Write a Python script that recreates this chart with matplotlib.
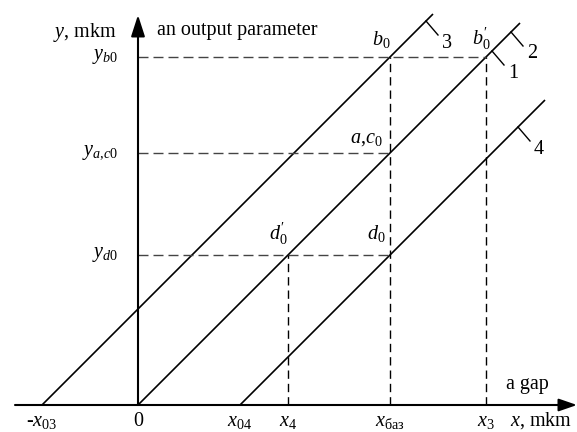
import matplotlib
matplotlib.use("Agg")
import matplotlib.pyplot as plt

plt.rcParams['font.family'] = ['Liberation Serif', 'DejaVu Serif']
plt.rcParams['mathtext.fontset'] = 'custom'
plt.rcParams['mathtext.rm'] = 'Liberation Serif'
plt.rcParams['mathtext.it'] = 'Liberation Serif:italic'
plt.rcParams['mathtext.bf'] = 'Liberation Serif:bold'
plt.rcParams['lines.scale_dashes'] = False

# ---- data (schematic units) ----
slope = 1.0
# characteristic lines: x-intercept, end x
line_names = ['3', '1/2', '4']
line_x0 = [-96, 0, 102]           # -x03, 0, x04
line_xend = [295, 382, 407]
# x-axis marks
x_names = [r'-$x_{03}$', '0', r'$x_{04}$', r'$x_4$', r'$x_{\mathrm{баз}}$', r'$x_3$']
x_vals = [-96, 0, 102, 150, 252, 348]
# y levels
y_names = [r'$y_{b0}$', r'$y_{a{,}c0}$', r'$y_{d0}$']
y_vals = [348, 252, 150]
# leader ticks for line numbers: (x on line, line index, label)
lead_x = [288, 373, 354, 380]
lead_line = [0, 1, 1, 2]
lead_txt = ['3', '2', '1', '4']

fig = plt.figure(figsize=(5.77, 4.32), dpi=100)
ax = fig.add_axes([0, 0, 1, 1])
ax.set_xlim(-138, 439)
ax.set_ylim(-27, 405)
ax.axis('off')

FS = 14.5

def line_y(i, x):
    return slope * (x - line_x0[i])

# axes with arrows
ax.annotate('', xy=(439, 0), xytext=(-123, 0),
            arrowprops=dict(arrowstyle='-|>,head_length=1.1,head_width=0.38',
                            mutation_scale=10, lw=1.5, color='black',
                            shrinkA=0, shrinkB=0))
ax.annotate('', xy=(0, 390), xytext=(0, 0),
            arrowprops=dict(arrowstyle='-|>,head_length=1.3,head_width=0.42',
                            mutation_scale=10, lw=1.5, color='black',
                            shrinkA=0, shrinkB=0))

# characteristic lines
for i in range(len(line_x0)):
    ax.plot([line_x0[i], line_xend[i]],
            [line_y(i, line_x0[i]), line_y(i, line_xend[i])],
            color='black', lw=1.2, solid_capstyle='butt')

x_03, x_0, x_04, x_4, x_baz, x_3 = x_vals
y_b0, y_ac0, y_d0 = y_vals

hdash = (0, (7.2, 3.6))
vdash = (0, (6.0, 3.6))
# horizontal dashed lines
ax.plot([0, x_3], [y_b0, y_b0], color='#444444', lw=1.0, ls=hdash)
ax.plot([0, x_baz], [y_ac0, y_ac0], color='#444444', lw=1.0, ls=hdash)
ax.plot([0, x_baz], [y_d0, y_d0], color='#444444', lw=1.0, ls=hdash)
# vertical dashed lines
ax.plot([x_4, x_4], [0, y_d0], color='black', lw=1.0, ls=vdash)
ax.plot([x_baz, x_baz], [0, y_b0], color='black', lw=1.0, ls=vdash)
ax.plot([x_3, x_3], [0, y_b0], color='black', lw=1.0, ls=vdash)

# leader ticks with line numbers
for lx, li, lt in zip(lead_x, lead_line, lead_txt):
    ly = line_y(li, lx)
    ax.plot([lx, lx + 12], [ly, ly - 14], color='black', lw=1.0)
    ax.text(lx + 21, ly - 22, lt, fontsize=FS, ha='center', va='center')

# axis labels
ax.text(-21, 372, r'$y$, mkm', fontsize=FS, ha='right', va='center')
ax.text(19, 374, 'an output parameter', fontsize=FS, ha='left', va='center')
ax.text(372, -21, r'$x$, mkm', fontsize=FS, ha='left', va='baseline')
ax.text(389, 20, 'a gap', fontsize=FS, ha='center', va='center')

for name, yv in zip(y_names, y_vals):
    ax.text(-20, yv, name, fontsize=FS, ha='right', va='center')
for name, xv in zip(x_names, x_vals):
    ax.text(xv, -21, name, fontsize=FS, ha='center', va='baseline')

# point labels
ax.text(x_baz - 9, y_b0 + 18, r'$b_0$', fontsize=FS, ha='center', va='center')
ax.text(x_3 - 5, y_b0 + 18, r'$b^{\prime}_0$', fontsize=FS, ha='center', va='center')
ax.text(x_baz - 24, y_ac0 + 14, r'$a{,}c_0$', fontsize=FS, ha='center', va='center')
ax.text(x_4 - 10, y_d0 + 21, r'$d^{\prime}_0$', fontsize=FS, ha='center', va='center')
ax.text(x_baz - 14, y_d0 + 21, r'$d_0$', fontsize=FS, ha='center', va='center')

fig.savefig('out.png', dpi=100)
